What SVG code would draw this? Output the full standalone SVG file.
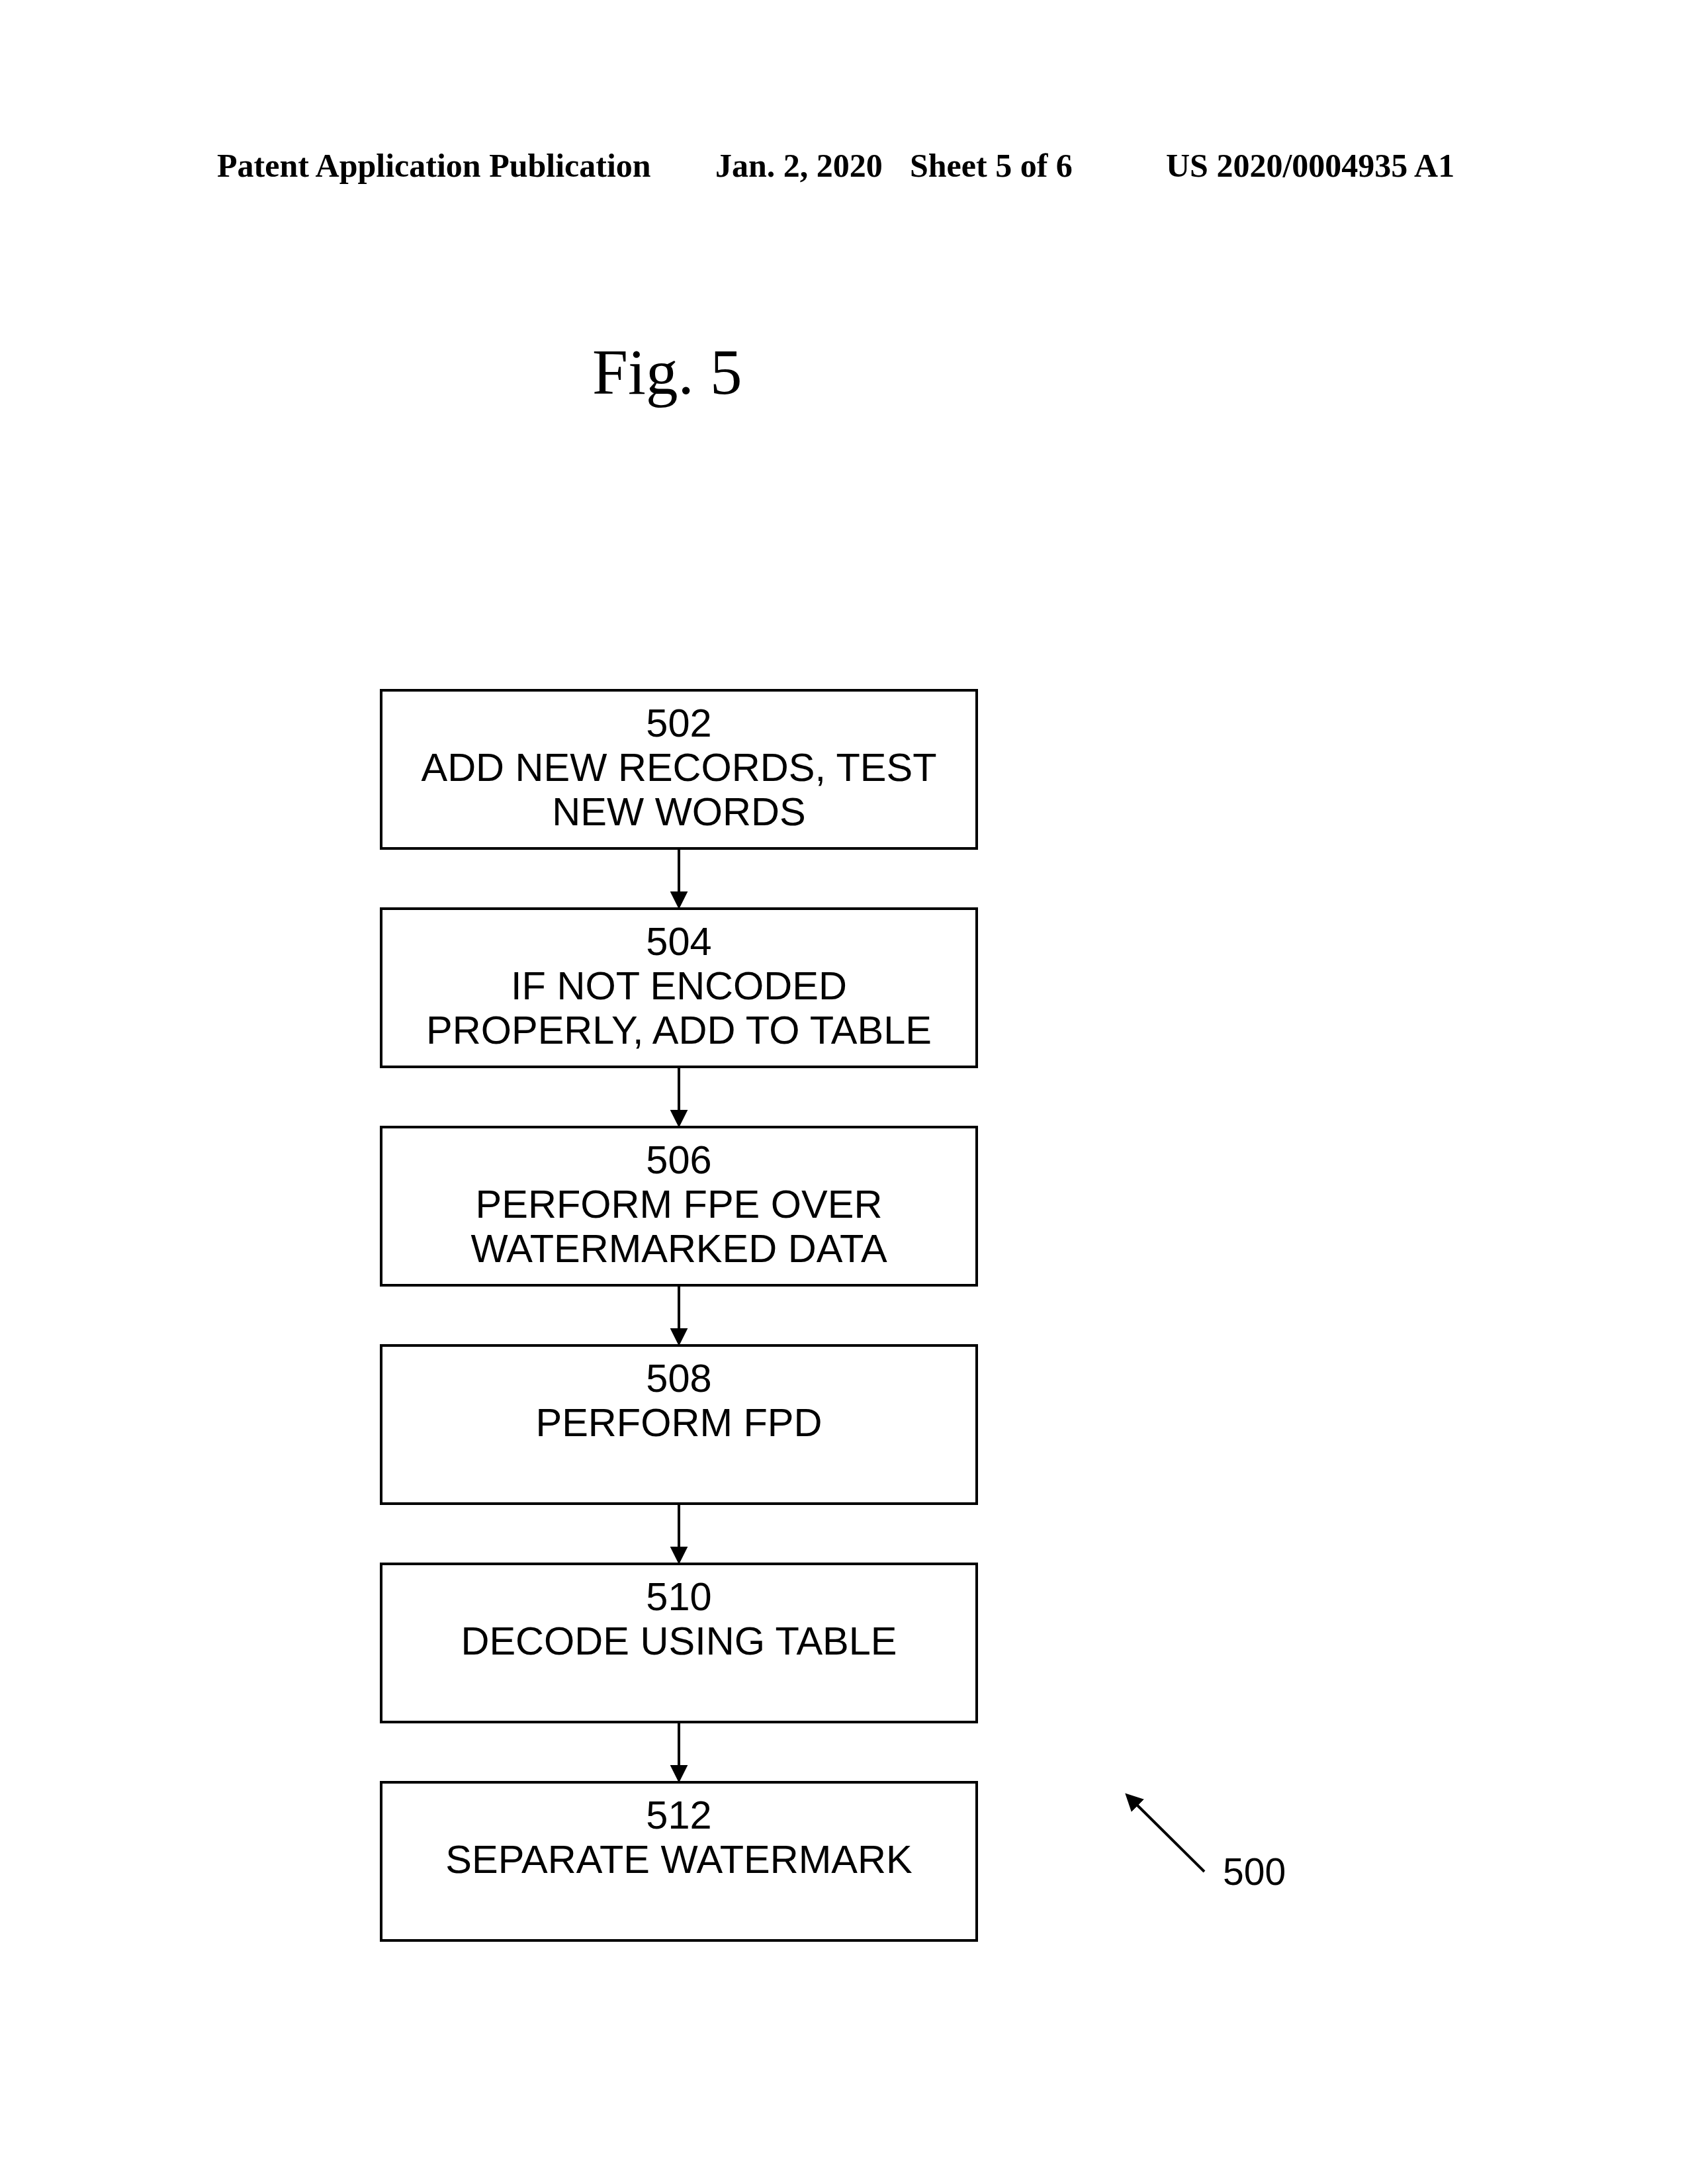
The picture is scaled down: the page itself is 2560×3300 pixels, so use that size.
<svg xmlns="http://www.w3.org/2000/svg" width="2560" height="3300" viewBox="0 0 2560 3300">
<style>
.hdr{font-family:"Liberation Serif","Times New Roman",serif;font-weight:bold;font-size:50px;fill:#000}
.fig{font-family:"Liberation Serif","Times New Roman",serif;font-size:97px;fill:#000}
.lbl{font-family:"Liberation Sans",Arial,Helvetica,sans-serif;font-size:59.5px;fill:#000;text-anchor:middle}
.ref{font-family:"Liberation Sans",Arial,Helvetica,sans-serif;font-size:57px;fill:#000}
.box{fill:#fff;stroke:#000;stroke-width:4}
.con{stroke:#000;stroke-width:4;fill:none}
</style>
<defs>
<marker id="ah" markerUnits="userSpaceOnUse" markerWidth="27" markerHeight="27" viewBox="0 0 26 26" refX="6" refY="13" orient="auto">
<path d="M0,0 L26,13 L0,26 z" fill="#000"/>
</marker>
</defs>
<rect width="2560" height="3300" fill="#fff"/>
<g id="header">
<text class="hdr" x="328" y="267">Patent Application Publication</text>
<text class="hdr" x="1081" y="267">Jan. 2, 2020</text>
<text class="hdr" x="1375" y="267">Sheet 5 of 6</text>
<text class="hdr" x="1762" y="267">US 2020/0004935 A1</text>
</g>
<text class="fig" x="895" y="595">Fig. 5</text>
<g id="connectors">
<line class="con" x1="1026" y1="1282" x2="1026" y2="1353" marker-end="url(#ah)"/>
<line class="con" x1="1026" y1="1612" x2="1026" y2="1683" marker-end="url(#ah)"/>
<line class="con" x1="1026" y1="1942" x2="1026" y2="2013" marker-end="url(#ah)"/>
<line class="con" x1="1026" y1="2272" x2="1026" y2="2343" marker-end="url(#ah)"/>
<line class="con" x1="1026" y1="2602" x2="1026" y2="2673" marker-end="url(#ah)"/>
<line class="con" x1="1820" y1="2828" x2="1715" y2="2724" marker-end="url(#ah)"/>
</g>
<g id="n502">
<rect class="box" x="576" y="1043" width="900" height="239"/>
<text class="lbl" x="1026" y="1113">502</text>
<text class="lbl" x="1026" y="1180">ADD NEW RECORDS, TEST</text>
<text class="lbl" x="1026" y="1247">NEW WORDS</text>
</g>
<g id="n504">
<rect class="box" x="576" y="1373" width="900" height="239"/>
<text class="lbl" x="1026" y="1443">504</text>
<text class="lbl" x="1026" y="1510">IF NOT ENCODED</text>
<text class="lbl" x="1026" y="1577">PROPERLY, ADD TO TABLE</text>
</g>
<g id="n506">
<rect class="box" x="576" y="1703" width="900" height="239"/>
<text class="lbl" x="1026" y="1773">506</text>
<text class="lbl" x="1026" y="1840">PERFORM FPE OVER</text>
<text class="lbl" x="1026" y="1907">WATERMARKED DATA</text>
</g>
<g id="n508">
<rect class="box" x="576" y="2033" width="900" height="239"/>
<text class="lbl" x="1026" y="2103">508</text>
<text class="lbl" x="1026" y="2170">PERFORM FPD</text>
</g>
<g id="n510">
<rect class="box" x="576" y="2363" width="900" height="239"/>
<text class="lbl" x="1026" y="2433">510</text>
<text class="lbl" x="1026" y="2500">DECODE USING TABLE</text>
</g>
<g id="n512">
<rect class="box" x="576" y="2693" width="900" height="239"/>
<text class="lbl" x="1026" y="2763">512</text>
<text class="lbl" x="1026" y="2830">SEPARATE WATERMARK</text>
</g>
<text class="ref" x="1848" y="2848">500</text>
</svg>
